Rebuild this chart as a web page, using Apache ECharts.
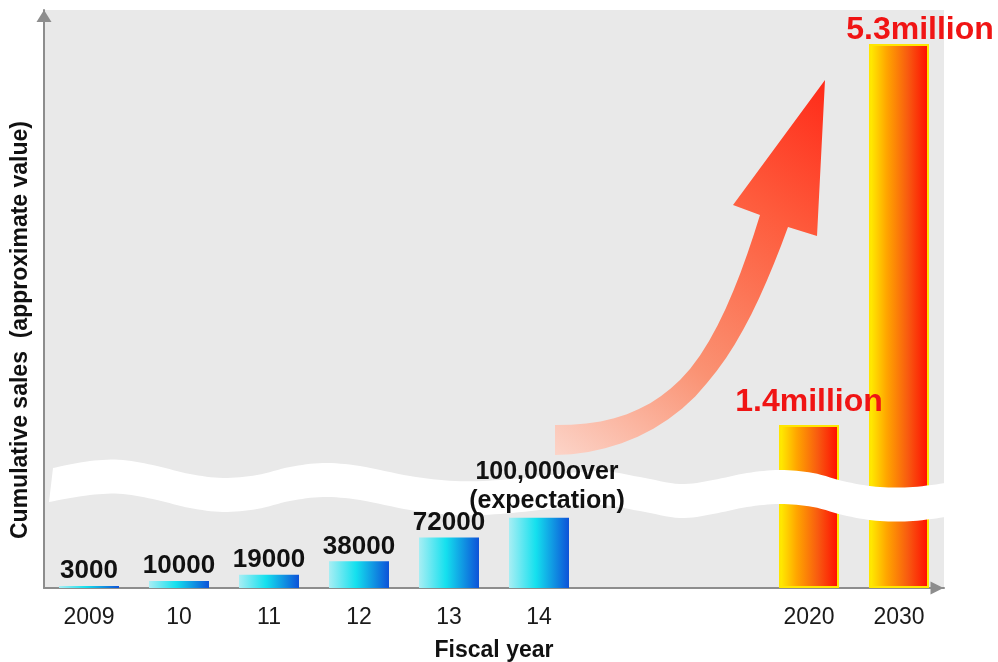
<!DOCTYPE html>
<html><head><meta charset="utf-8">
<script src="https://cdn.jsdelivr.net/npm/echarts@6/dist/echarts.min.js"></script>
<style>html,body{margin:0;padding:0;background:#fff}#c{width:998px;height:662px}</style>
</head><body><div id="c"></div>
<script>
// ---- data ----
const categories = ['2009', '10', '11', '12', '13', '14', '', '', '2020', '2030'];
const recordYears = ['2009', '10', '11', '12', '13', '14'];
const recordSales = [3000, 10000, 19000, 38000, 72000, 100000];
const recordLabels = ['3000', '10000', '19000', '38000', '72000', '100,000over\n(expectation)'];
const forecastYears = ['2020', '2030'];
const forecastSales = [1400000, 5300000];
const forecastLabels = ['1.4million', '5.3million'];
const xTitle = 'Fiscal year';
const yTitle = 'Cumulative sales  (approximate value)';

// ---- helpers (decoration geometry) ----
function bez(p0, p1, p2, p3, n) {
  const pts = [];
  for (let i = 1; i <= n; i++) {
    const t = i / n, u = 1 - t;
    pts.push([
      u*u*u*p0[0] + 3*u*u*t*p1[0] + 3*u*t*t*p2[0] + t*t*t*p3[0],
      u*u*u*p0[1] + 3*u*u*t*p1[1] + 3*u*t*t*p2[1] + t*t*t*p3[1]
    ]);
  }
  return pts;
}
function catmull(points) {
  const out = [points[0]];
  for (let i = 0; i < points.length - 1; i++) {
    const p0 = points[i-1] || points[i], p1 = points[i], p2 = points[i+1], p3 = points[i+2] || points[i+1];
    const c1 = [p1[0] + (p2[0]-p0[0])/6, p1[1] + (p2[1]-p0[1])/6];
    const c2 = [p2[0] - (p3[0]-p1[0])/6, p2[1] - (p3[1]-p1[1])/6];
    out.push(...bez(p1, c1, c2, p2, 8));
  }
  return out;
}
const waveTop = [[53,468],[90,461],[123,460],[157,466],[190,474],[223,478],[257,475],[290,467],[323,463],[360,466],[410,476],[455,481],[500,480],[550,475],[600,471],[640,477],[680,484],[713,480],[747,473],[780,470],[813,473],[847,482],[880,487],[913,487],[946,483]];
const waveBottom = waveTop.map((p, i) => [i === 0 ? 49 : p[0], p[1] + 34]);
const bandPts = catmull(waveTop).concat(catmull(waveBottom).reverse());

const arrowPts = [[555,425]]
  .concat(bez([555,425],[610,426],[650,410],[680,380],10))
  .concat(bez([680,380],[715,345],[740,280],[760,215],10))
  .concat([[733,205],[825,80],[817,236],[788,227]])
  .concat(bez([788,227],[765,290],[740,345],[707,383],10))
  .concat(bez([707,383],[670,430],[610,455],[555,455],10));

// ---- series data built from arrays ----
const FONT = '"Liberation Sans", Arial, sans-serif';
const recordData = categories.map(c => {
  const i = recordYears.indexOf(c);
  if (i < 0) return '-';
  const item = { value: recordSales[i] };
  if (recordLabels[i].indexOf('\n') >= 0) item.label = { fontSize: 25, lineHeight: 29, offset: [8, 0] };
  return item;
});
const forecastData = categories.map(c => {
  const i = forecastYears.indexOf(c);
  if (i < 0) return '-';
  const item = { value: forecastSales[i] };
  if (i === 1) item.label = { offset: [21, 9] };
  return item;
});

const blueGrad = new echarts.graphic.LinearGradient(0, 0, 1, 0, [
  { offset: 0, color: '#a8eef4' }, { offset: 0.45, color: '#14e0ee' }, { offset: 1, color: '#0d52d8' }]);
const orangeGrad = new echarts.graphic.LinearGradient(0, 0, 1, 0, [
  { offset: 0, color: '#fff200' }, { offset: 0.3, color: '#ffa400' }, { offset: 0.65, color: '#f85a10' }, { offset: 1, color: '#ff0a00' }]);

const axisLineStyle = { color: '#8d8d8d', width: 2 };

const chart = echarts.init(document.getElementById('c'), null, { renderer: 'canvas' });
chart.setOption({
  animation: false,
  backgroundColor: '#ffffff',
  grid: { left: 44, top: 10, width: 900, height: 578, show: true, backgroundColor: '#e9e9e9', borderWidth: 0,
    containLabel: false, outerBoundsMode: 'none' },
  xAxis: {
    type: 'category', data: categories,
    axisLine: { show: true, onZero: false, lineStyle: axisLineStyle, symbol: ['none', 'triangle'], symbolSize: [13, 13], symbolOffset: [0, -7] },
    axisTick: { show: false },
    axisLabel: { interval: 0, margin: 18, fontSize: 23, color: '#1a1a1a', fontFamily: FONT },
    name: xTitle, nameLocation: 'middle', nameGap: 51,
    nameTextStyle: { fontSize: 23, fontWeight: 'bold', color: '#111', fontFamily: FONT }
  },
  yAxis: [
    {
      type: 'value', min: 0, max: 824000,
      axisLine: { show: true, lineStyle: axisLineStyle, symbol: ['none', 'triangle'], symbolSize: [15, 12], symbolOffset: [0, -6] },
      axisTick: { show: false }, axisLabel: { show: false }, splitLine: { show: false }
    },
    {
      type: 'value', min: 0, max: 5648000, show: false,
      breaks: [{ start: 700000, end: 943500, gap: 512000 }],
      breakArea: { show: false },
      axisLine: { show: false }, axisTick: { show: false }, axisLabel: { show: false }, splitLine: { show: false }
    }
  ],
  series: [
    {
      type: 'bar', name: 'Cumulative sales', yAxisIndex: 0, z: 3,
      barWidth: 60, barGap: '-100%',
      data: recordData,
      itemStyle: { color: blueGrad },
      label: {
        show: true, position: 'top', distance: 2,
        formatter: p => recordLabels[recordYears.indexOf(categories[p.dataIndex])],
        fontSize: 26, fontWeight: 'bold', color: '#111', fontFamily: FONT
      }
    },
    {
      type: 'bar', name: 'Forecast', yAxisIndex: 1, z: 1,
      barWidth: 60, barGap: '-100%',
      data: forecastData,
      itemStyle: { color: orangeGrad, borderColor: '#ffe600', borderWidth: 2 },
      label: {
        show: true, position: 'top', distance: 7,
        formatter: p => forecastLabels[forecastYears.indexOf(categories[p.dataIndex])],
        fontSize: 32, fontWeight: 'bold', color: '#f01414', fontFamily: FONT
      }
    }
  ],
  graphic: [
    { type: 'polygon', z: 2, silent: true, shape: { points: bandPts }, style: { fill: '#ffffff' } },
    { type: 'polygon', z: 2, silent: true, shape: { points: arrowPts },
      style: { fill: { type: 'linear', x: 0, y: 1, x2: 1, y2: 0, colorStops: [
        { offset: 0, color: '#fcd4c8' }, { offset: 0.33, color: '#fa9273' }, { offset: 0.7, color: '#fe5b3c' }, { offset: 1, color: '#ff2a18' }] } } },
    { type: 'text', z: 5, x: 21, y: 330, rotation: Math.PI / 2, silent: true,
      style: { text: yTitle, fill: '#111', font: 'bold 23px ' + FONT, fontSize: 23, fontWeight: 'bold', fontFamily: FONT,
        align: 'center', verticalAlign: 'middle', textAlign: 'center', textVerticalAlign: 'middle' } }
  ]
});
</script>
</body></html>
